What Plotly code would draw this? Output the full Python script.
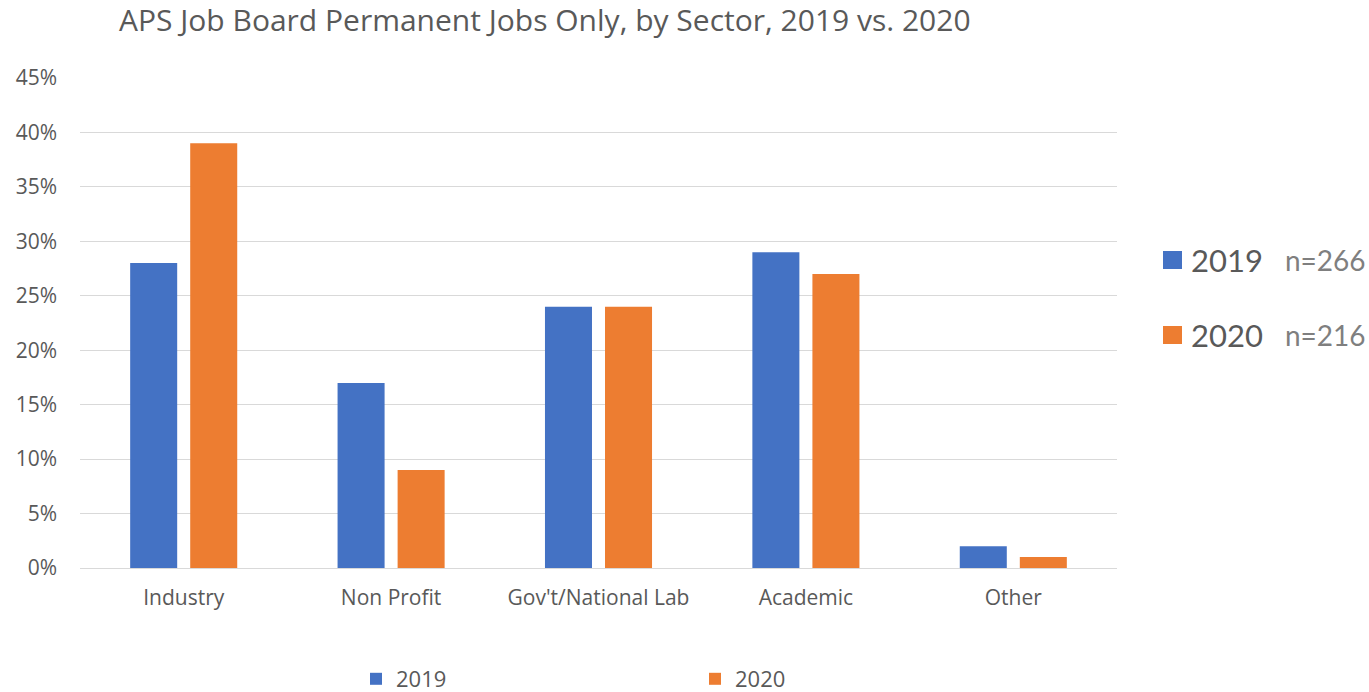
import plotly.graph_objects as go

# Sector shares of permanent job postings
sectors = ["Industry", "Non Profit", "Gov't/National Lab", "Academic", "Other"]
share_2019 = [28, 17, 24, 29, 2]
share_2020 = [39, 9, 24, 27, 1]
years = ["2019", "2020"]
sample_sizes = ["n=266", "n=216"]
y_ticks = [0, 5, 10, 15, 20, 25, 30, 35, 40, 45]

BLUE = "#4472C4"
ORANGE = "#ED7D31"
TEXT = "#595959"
GRID = "#D9D9D9"

fig = go.Figure()
fig.add_trace(go.Bar(name=years[0], x=sectors, y=share_2019, marker_color=BLUE,
                     marker_line_width=0))
fig.add_trace(go.Bar(name=years[1], x=sectors, y=share_2020, marker_color=ORANGE,
                     marker_line_width=0))

W, H = 1369, 692
L, R, T, B = 80, 252, 78, 124
PW, PH = W - L - R, H - T - B

fig.update_layout(
    width=W, height=H,
    margin=dict(l=L, r=R, t=T, b=B, autoexpand=False),
    paper_bgcolor="white", plot_bgcolor="white",
    barmode="group", bargap=0.421, bargroupgap=0.217,
    font=dict(family="Open Sans", color=TEXT, size=20),
    title=dict(text="APS Job Board Permanent Jobs Only, by Sector, 2019 vs. 2020",
               x=119 / W, xanchor="left", xref="container",
               y=1 - 20 / H, yanchor="middle", yref="container",
               font=dict(family="Open Sans", size=30, color=TEXT)),
    legend=dict(orientation="h", x=(356 - L) / PW, xanchor="left",
                y=-(679 - (H - B)) / PH, yanchor="middle",
                entrywidth=294, entrywidthmode="pixels",
                font=dict(family="Open Sans", size=22, color=TEXT),
                bgcolor="rgba(0,0,0,0)"),
    xaxis=dict(showgrid=False, showline=False, ticks="", ticklabelstandoff=15,
               tickfont=dict(family="Open Sans", size=21, color=TEXT)),
    yaxis=dict(range=[0, 45], tickvals=y_ticks,
               ticktext=[f"{v}%" for v in y_ticks],
               showgrid=True, gridcolor=GRID, gridwidth=1,
               zeroline=True, zerolinecolor=GRID, zerolinewidth=1,
               showline=False, ticks="", ticklabelstandoff=22,
               tickfont=dict(family="Open Sans", size=21, color=TEXT)),
)

# Side key with sample sizes
rows_y = [260, 335]
colors = [BLUE, ORANGE]
for yr, n, c, yc in zip(years, sample_sizes, colors, rows_y):
    fig.add_shape(type="rect", xref="paper", yref="paper",
                  x0=(1163 - L) / PW, x1=(1182 - L) / PW,
                  y0=(H - B - (yc + 9)) / PH, y1=(H - B - (yc - 9)) / PH,
                  fillcolor=c, line_width=0)
    fig.add_annotation(text=yr, xref="paper", yref="paper",
                       x=(1189 - L) / PW, xanchor="left",
                       y=(H - B - yc) / PH, yanchor="middle",
                       showarrow=False,
                       font=dict(family="Lato", size=31, color="#595959"))
    fig.add_annotation(text=n, xref="paper", yref="paper",
                       x=(1283 - L) / PW, xanchor="left",
                       y=(H - B - yc) / PH, yanchor="middle",
                       showarrow=False,
                       font=dict(family="Lato", size=28, color="#7F7F7F"))

fig.write_html("out.html")
